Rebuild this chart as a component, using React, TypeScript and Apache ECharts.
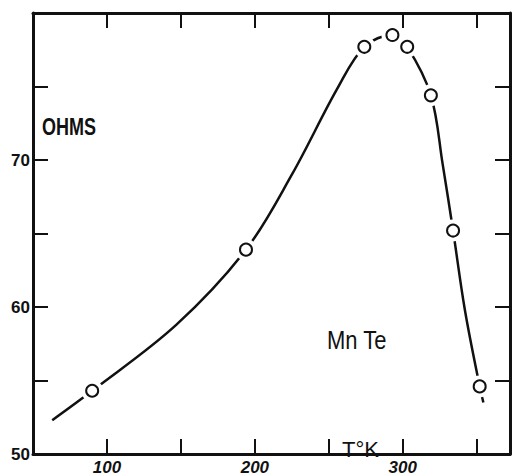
import React, { useEffect, useRef } from "react";
import * as echarts from "echarts";

// Measured points (T in K, resistance in ohms)
const pointsT = [90, 194, 274, 293, 303, 319, 334, 352];
const pointsOhm = [54.3, 63.9, 77.7, 78.5, 77.7, 74.4, 65.2, 54.6];

// Smooth fitted curve
const curveT = [63, 90, 147, 194, 225, 256, 274, 293, 303, 319, 327, 334, 342, 352, 354.5];
const curveOhm = [52.3, 54.3, 58.8, 63.9, 69.0, 74.9, 77.7, 78.5, 77.7, 74.4, 69.7, 65.2, 59.8, 54.6, 53.5];

const xLabels = [100, 200, 300];
const yLabels = [50, 60, 70];

const X_MIN = 50;
const X_MAX = 372.5;
const Y_MIN = 50;
const Y_MAX = 80;

export default function App() {
  const ref = useRef<HTMLDivElement>(null);

  useEffect(() => {
    if (!ref.current) return;
    const chart = echarts.init(ref.current, undefined, { renderer: "svg" });
    const ink = "#111";
    const tick = { show: true, inside: true, length: 15, lineStyle: { color: ink, width: 2 } };
    const axisLine = { show: true, onZero: false, lineStyle: { color: ink, width: 3 } };

    const xBase = {
      type: "value" as const,
      min: X_MIN,
      max: X_MAX,
      interval: 50,
      splitLine: { show: false },
      axisLine,
      axisTick: tick,
    };
    const yBase = {
      type: "value" as const,
      min: Y_MIN,
      max: Y_MAX,
      interval: 5,
      splitLine: { show: false },
      axisLine,
      axisTick: tick,
    };

    chart.setOption({
      animation: false,
      backgroundColor: "#ffffff",
      grid: { left: 33, right: 1, top: 13, bottom: 17, containLabel: false },
      xAxis: [
        {
          ...xBase,
          position: "bottom",
          axisLabel: {
            show: true,
            margin: 5,
            color: ink,
            fontSize: 17,
            fontStyle: "italic",
            fontWeight: "bold",
            fontFamily: "Liberation Sans",
            formatter: (v: number) => (xLabels.includes(v) ? String(v) : ""),
          },
        },
        { ...xBase, position: "top", axisLabel: { show: false } },
      ],
      yAxis: [
        {
          ...yBase,
          position: "left",
          axisLabel: {
            show: true,
            margin: 3,
            color: ink,
            fontSize: 17,
            fontWeight: "bold",
            fontFamily: "Liberation Sans",
            formatter: (v: number) => (yLabels.includes(v) ? String(v) : ""),
          },
        },
        { ...yBase, position: "right", axisLabel: { show: false } },
      ],
      series: [
        {
          type: "line",
          data: curveT.map((t, i) => [t, curveOhm[i]]),
          smooth: 0.35,
          showSymbol: false,
          symbol: "none",
          lineStyle: { color: ink, width: 2.5 },
          z: 2,
          silent: true,
        },
        {
          type: "scatter",
          data: pointsT.map((t, i) => [t, pointsOhm[i]]),
          symbol: "circle",
          symbolSize: 22,
          itemStyle: { color: "#ffffff", borderWidth: 0, opacity: 1 },
          z: 3,
          silent: true,
        },
        {
          type: "scatter",
          data: pointsT.map((t, i) => [t, pointsOhm[i]]),
          symbol: "circle",
          symbolSize: 12,
          itemStyle: { color: "#ffffff", borderColor: ink, borderWidth: 2, opacity: 1 },
          z: 4,
          silent: true,
        },
      ],
      graphic: [
        {
          type: "text",
          x: 42,
          y: 115,
          scaleY: 1.35,
          style: {
            text: "OHMS",
            fill: ink,
            fontSize: 18,
            fontWeight: "bold",
            fontFamily: "Liberation Sans",
            align: "left",
            verticalAlign: "top",
          },
        },
        {
          type: "text",
          x: 327,
          y: 328,
          scaleY: 1.15,
          style: {
            text: "Mn Te",
            fill: ink,
            fontSize: 22,
            fontFamily: "Liberation Sans",
            align: "left",
            verticalAlign: "top",
          },
        },
        {
          type: "text",
          x: 342,
          y: 438,
          style: {
            text: "T°K",
            fill: ink,
            fontSize: 22,
            fontFamily: "Liberation Sans",
            align: "left",
            verticalAlign: "top",
          },
        },
      ],
    });
    return () => chart.dispose();
  }, []);

  return (
    <div
      ref={ref}
      style={{ position: "absolute", left: 0, top: 0, width: 513, height: 476 }}
    />
  );
}
